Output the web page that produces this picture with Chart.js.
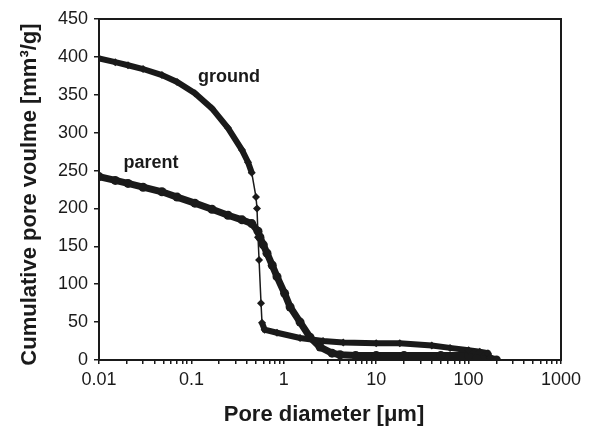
<!DOCTYPE html>
<html>
<head>
<meta charset="utf-8">
<script src="https://cdn.jsdelivr.net/npm/chart.js@4/dist/chart.umd.min.js"></script>
<style>
  html, body { margin: 0; padding: 0; background: #ffffff; }
  #wrap { width: 590px; height: 427px; }
</style>
</head>
<body>
<div id="wrap"><canvas id="c" width="590" height="427"></canvas></div>
<script>
// ---- data ----
const groundDiameter = [0.01, 0.015, 0.0206, 0.03, 0.048, 0.07, 0.109, 0.167, 0.249, 0.353, 0.41, 0.45, 0.50, 0.513, 0.526, 0.54, 0.567, 0.581, 0.62, 0.844, 1.5, 2.66, 4.4, 10, 18, 40, 63, 100, 132, 162, 170];
const groundVolume   = [398, 393, 389, 384, 376, 367, 352, 332, 306, 277, 261, 247, 215, 200, 162, 132, 75, 49, 40, 36, 29, 25, 23, 22, 22, 19, 16, 13, 11, 9, 3];

const parentDiameter = [0.01, 0.015, 0.0206, 0.03, 0.048, 0.07, 0.109, 0.167, 0.249, 0.353, 0.45, 0.526, 0.552, 0.6, 0.658, 0.75, 0.844, 1.02, 1.17, 1.5, 1.92, 2.47, 3.33, 4.06, 6, 10, 20, 50, 100, 150, 200];
const parentVolume   = [242, 237, 233, 228, 222, 215, 207, 199, 191, 185, 180, 170, 162, 152, 141, 125, 110, 88, 70, 50, 30, 17, 9, 7, 6, 6, 6, 6, 6, 5, 0];

const xTickLabels = ['0.01', '0.1', '1', '10', '100', '1000'];
const xDecades = [0.01, 0.1, 1, 10, 100, 1000];
const minorSteps = [1, 2, 3, 4, 5, 6, 7, 8, 9];
const yTicks = [0, 50, 100, 150, 200, 250, 300, 350, 400, 450];
const seriesNames = ['ground', 'parent'];
const xTitle = 'Pore diameter [\u03bcm]';
const yTitle = 'Cumulative pore voulme [mm\u00b3/g]';
// label anchor points (data coordinates) for the series names
const labelAt = { ground: [0.255, 367], parent: [0.0366, 253] };

const toXY = (xs, ys) => xs.map((x, i) => ({ x: x, y: ys[i] }));
const INK = '#1a1a1a';
const FONT = "'Liberation Sans', Arial, Helvetica, sans-serif";

function segWidth(thick) {
  return ctx => {
    const dx = Math.abs(ctx.p1.x - ctx.p0.x);
    const dy = Math.abs(ctx.p1.y - ctx.p0.y);
    return (dy > 4 * dx && dy > 8) ? 1.5 : thick;
  };
}

const overlay = {
  id: 'overlay',
  afterDatasetsDraw(chart) {
    const { ctx, chartArea: a, scales } = chart;
    ctx.save();
    ctx.strokeStyle = INK;
    ctx.lineWidth = 2;
    ctx.strokeRect(a.left, a.top, a.right - a.left, a.bottom - a.top);
    ctx.fillStyle = INK;
    ctx.font = 'bold 18px ' + FONT;
    ctx.textAlign = 'center';
    ctx.textBaseline = 'alphabetic';
    seriesNames.forEach(n => {
      const p = labelAt[n];
      ctx.fillText(n, scales.x.getPixelForValue(p[0]), scales.y.getPixelForValue(p[1]));
    });
    // axis titles
    ctx.font = 'bold 22px ' + FONT;
    ctx.textBaseline = 'middle';
    ctx.fillText(xTitle, (a.left + a.right) / 2 - 6, 415);
    ctx.translate(30, (a.top + a.bottom) / 2 + 5);
    ctx.rotate(-Math.PI / 2);
    ctx.fillText(yTitle, 0, 0);
    ctx.restore();
  }
};

new Chart(document.getElementById('c'), {
  type: 'scatter',
  data: {
    datasets: [
      {
        label: seriesNames[0],
        data: toXY(groundDiameter, groundVolume),
        showLine: true,
        borderColor: INK,
        backgroundColor: INK,
        pointStyle: 'rectRot',
        pointRadius: 4,
        pointBorderWidth: 0,
        segment: { borderWidth: segWidth(6) },
        borderWidth: 6
      },
      {
        label: seriesNames[1],
        data: toXY(parentDiameter, parentVolume),
        showLine: true,
        borderColor: INK,
        backgroundColor: INK,
        pointStyle: 'circle',
        pointRadius: 4.5,
        pointBorderWidth: 0,
        segment: { borderWidth: segWidth(7) },
        borderWidth: 7
      }
    ]
  },
  options: {
    responsive: false,
    animation: false,
    events: [],
    layout: { padding: { top: 19, right: 29, left: 0, bottom: 0 } },
    plugins: { legend: { display: false }, tooltip: { enabled: false } },
    scales: {
      x: {
        type: 'logarithmic',
        min: 0.01,
        max: 1000,
        afterFit: s => { s.height = 67; },
        afterBuildTicks: s => {
          const t = [];
          xDecades.forEach((d, i) => {
            minorSteps.forEach(m => {
              if (i < xDecades.length - 1 || m === 1) t.push({ value: d * m, major: m === 1 });
            });
          });
          s.ticks = t;
        },
        border: { display: false },
        grid: { drawOnChartArea: false, drawTicks: true, tickLength: 4, color: INK, lineWidth: 1.5 },
        ticks: {
          autoSkip: false,
          maxRotation: 0,
          padding: 5,
          color: INK,
          font: { family: FONT, size: 18 },
          callback: v => {
            const idx = xDecades.findIndex(d => Math.abs(d - v) < d * 1e-6);
            return idx >= 0 ? xTickLabels[idx] : '';
          }
        }
      },
      y: {
        min: 0,
        max: 450,
        afterFit: s => { s.width = 99; },
        afterBuildTicks: s => { s.ticks = yTicks.map(v => ({ value: v })); },
        border: { display: false },
        grid: { drawOnChartArea: false, drawTicks: true, tickLength: 5, color: INK, lineWidth: 1.5 },
        ticks: {
          padding: 6,
          color: INK,
          font: { family: FONT, size: 18 }
        }
      }
    }
  },
  plugins: [overlay]
});
</script>
</body>
</html>
